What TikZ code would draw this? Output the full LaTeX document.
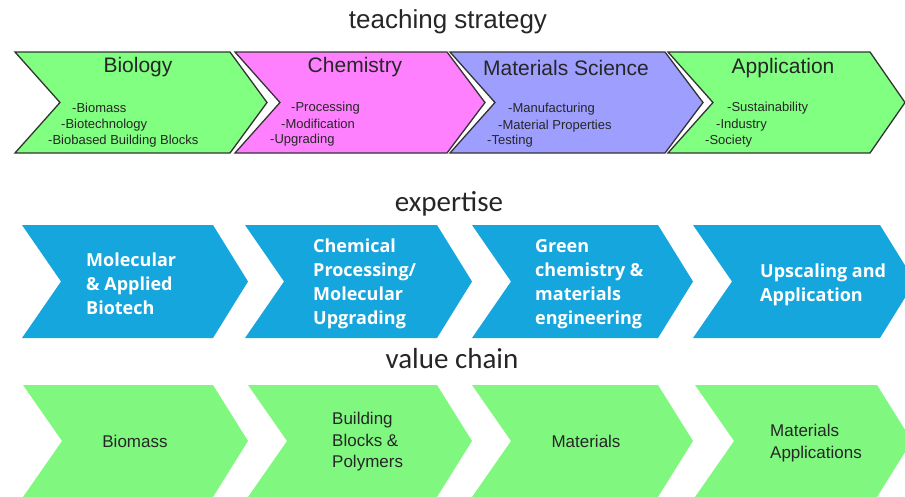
\documentclass[tikz,border=0pt]{standalone}
\usepackage{fontspec}
\setmainfont{Liberation Sans}
\newfontfamily\calfont{Carlito}
\newfontfamily\opfont{Open Sans}

\definecolor{leafgreen}{RGB}{128,255,128}
\definecolor{chempink}{RGB}{255,128,255}
\definecolor{matviolet}{RGB}{158,158,255}
\definecolor{expblue}{RGB}{22,166,222}
\definecolor{chaingreen}{RGB}{128,248,128}

\tikzset{
	heading/.style={font=\calfont\fontsize{29}{32}\selectfont, text=black!85},
	subject/.style={font=\fontsize{21}{24}\selectfont, text=black!85},
	topic/.style={font=\fontsize{13}{15}\selectfont, text=black!85, anchor=west, inner sep=0pt},
	field/.style={font=\opfont\bfseries\fontsize{18}{24}\selectfont, text=white, align=left, anchor=west, inner sep=0pt},
	link/.style={font=\fontsize{17}{21.5}\selectfont, text=black!85, align=left, inner sep=0pt},
}

\begin{document}
\begin{tikzpicture}[x=1pt,y=-1pt]
	\clip (0,0) rectangle (905,496);
	% headings
	\node[heading, font=\fontsize{26}{30}\selectfont] (teach) at (448,22) {teaching strategy};
	\node[heading] (expert) at (449,204) {expertise};
	\node[heading] (chain) at (452,359) {value chain};

	% teaching strategy chevrons
	\foreach \l/\r/\p/\c in {15/230/37/leafgreen, 235/447/38/chempink, 450/665/38/matviolet, 668/870/35/leafgreen}
		\draw[line width=1.3pt, draw=black!80, fill=\c] (\l,52) -- (\r,52) -- (\r+\p,102.5) -- (\r,153) -- (\l,153) -- (\l+45,102.5) -- cycle;

	\node[subject] (bio) at (138,67) {Biology};
	\node[subject] (chem) at (355,67) {Chemistry};
	\node[subject] (mat) at (566,68) {Materials Science};
	\node[subject] (app) at (783,68) {Application};

	\node[topic] (bio1) at (72,108) {-Biomass};
	\node[topic] (bio2) at (61,125) {-Biotechnology};
	\node[topic] (bio3) at (48,141) {-Biobased Building Blocks};
	\node[topic] (chem1) at (291,108) {-Processing};
	\node[topic] (chem2) at (281,124) {-Modification};
	\node[topic] (chem3) at (270,140) {-Upgrading};
	\node[topic] (mat1) at (508,109) {-Manufacturing};
	\node[topic] (mat2) at (498,126) {-Material Properties};
	\node[topic] (mat3) at (487,141) {-Testing};
	\node[topic] (app1) at (727,108) {-Sustainability};
	\node[topic] (app2) at (716,125) {-Industry};
	\node[topic] (app3) at (705,141) {-Society};

	% expertise chevrons
	\foreach \l/\r in {22/213, 245/437, 472/658, 693/880}
		\fill[expblue] (\l,225) -- (\r,225) -- (\r+35,281.5) -- (\r,338) -- (\l,338) -- (\l+39,281.5) -- cycle;

	\node[field] (biotech) at (86,284) {Molecular\\\& Applied\\Biotech};
	\node[field] (process) at (313,284) {Chemical\\Processing/\\Molecular\\Upgrading};
	\node[field] (greenchem) at (535,284) {Green\\chemistry \&\\materials\\engineering};
	\node[field] (upscale) at (760,285) {Upscaling and\\Application};

	% value chain chevrons
	\foreach \l/\r in {23/213, 248/437, 472/658, 695/877}
		\fill[chaingreen] (\l,385) -- (\r,385) -- (\r+35,441) -- (\r,497) -- (\l,497) -- (\l+39,441) -- cycle;

	\node[link] (biomass) at (135,441) {Biomass};
	\node[link, anchor=west] (blocks) at (332,442) {Building\\Blocks \&\\Polymers};
	\node[link] (materials) at (586,441) {Materials};
	\node[link, anchor=west] (matapp) at (770,443) {Materials\\Applications};
\end{tikzpicture}
\end{document}
